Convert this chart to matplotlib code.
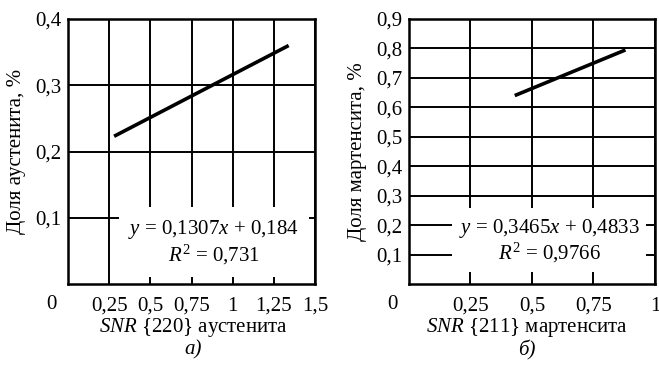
import matplotlib
matplotlib.use("Agg")
import matplotlib.pyplot as plt

plt.rcParams["font.family"] = ["Liberation Serif", "DejaVu Serif"]
plt.rcParams["mathtext.fontset"] = "custom"
plt.rcParams["mathtext.rm"] = "Liberation Serif"
plt.rcParams["mathtext.it"] = "Liberation Serif:italic"

FONT_SIZE = 15

# trend line endpoints (SNR, phase fraction)
austenite_snr = [0.28, 1.34]
austenite_share = [0.223, 0.360]
martensite_snr = [0.43, 0.88]
martensite_share = [0.640, 0.795]

austenite_xticks = [0.25, 0.5, 0.75, 1.0, 1.25, 1.5]
austenite_xlabels = ["0,25", "0,5", "0,75", "1", "1,25", "1,5"]
austenite_yticks = [0.1, 0.2, 0.3, 0.4]
austenite_ylabels = ["0,1", "0,2", "0,3", "0,4"]

martensite_xticks = [0.25, 0.5, 0.75, 1.0]
martensite_xlabels = ["0,25", "0,5", "0,75", "1"]
martensite_yticks = [0.1, 0.2, 0.3, 0.4, 0.5, 0.6, 0.7, 0.8, 0.9]
martensite_ylabels = ["0,1", "0,2", "0,3", "0,4", "0,5", "0,6", "0,7", "0,8", "0,9"]

fig = plt.figure(figsize=(6.59, 3.65), dpi=100)
ax_a = fig.add_axes([0.1032, 0.2219, 0.3748, 0.726])
ax_b = fig.add_axes([0.6206, 0.2219, 0.3733, 0.726])


def style_axis(ax, xlim, ylim, xticks, xlabels, yticks, ylabels):
    ax.set_xlim(*xlim)
    ax.set_ylim(*ylim)
    ax.set_xticks(xticks)
    ax.set_xticklabels(xlabels)
    ax.set_yticks(yticks)
    ax.set_yticklabels(ylabels)
    ax.tick_params(length=0, labelsize=FONT_SIZE)
    ax.tick_params(axis="x", pad=9)
    ax.tick_params(axis="y", pad=5)
    ax.grid(True, color="black", linewidth=1.4, zorder=0)
    ax.set_axisbelow(True)
    for spine in ax.spines.values():
        spine.set_linewidth(1.8)
    # shared origin label, set off to the lower left of the corner
    ax.annotate("0", xy=(0, 0), xytext=(-12, -15), textcoords="offset points",
                ha="center", va="center", fontsize=FONT_SIZE)


style_axis(ax_a, (0, 1.5), (0, 0.4), austenite_xticks, austenite_xlabels,
           austenite_yticks, austenite_ylabels)
style_axis(ax_b, (0, 1.0), (0, 0.9), martensite_xticks, martensite_xlabels,
           martensite_yticks, martensite_ylabels)

ax_a.plot(austenite_snr, austenite_share, color="black", linewidth=2.6,
          solid_capstyle="butt", zorder=3)
ax_b.plot(martensite_snr, martensite_share, color="black", linewidth=2.6,
          solid_capstyle="butt", zorder=3)

ax_a.text(0.885, 0.063, "$y$ = 0,1307$x$ + 0,184\n$R^2$ = 0,731", ha="center",
          va="center", multialignment="center", fontsize=FONT_SIZE,
          linespacing=1.1, zorder=4,
          bbox=dict(facecolor="white", edgecolor="none", pad=7))
ax_b.text(0.57, 0.146, "$y$ = 0,3465$x$ + 0,4833\n$R^2$ = 0,9766", ha="center",
          va="center", multialignment="center", fontsize=FONT_SIZE,
          linespacing=1.1, zorder=4,
          bbox=dict(facecolor="white", edgecolor="none", pad=5))

ax_a.set_ylabel("Доля аустенита, %", fontsize=FONT_SIZE)
ax_a.yaxis.set_label_coords(-0.17, 0.5)
ax_b.set_ylabel("Доля мартенсита, %", fontsize=FONT_SIZE)
ax_b.yaxis.set_label_coords(-0.172, 0.5)

ax_a.set_xlabel(r"$\mathit{SNR}$ {220} аустенита", fontsize=FONT_SIZE)
ax_a.xaxis.set_label_coords(0.506, -0.12)
ax_b.set_xlabel(r"$\mathit{SNR}$ {211} мартенсита", fontsize=FONT_SIZE)
ax_b.xaxis.set_label_coords(0.48, -0.12)

ax_a.text(0.506, -0.25, "а)", transform=ax_a.transAxes, ha="center",
          va="center", fontsize=FONT_SIZE, style="italic")
ax_b.text(0.48, -0.25, "б)", transform=ax_b.transAxes, ha="center",
          va="center", fontsize=FONT_SIZE, style="italic")

fig.savefig("out.png", dpi=100)
